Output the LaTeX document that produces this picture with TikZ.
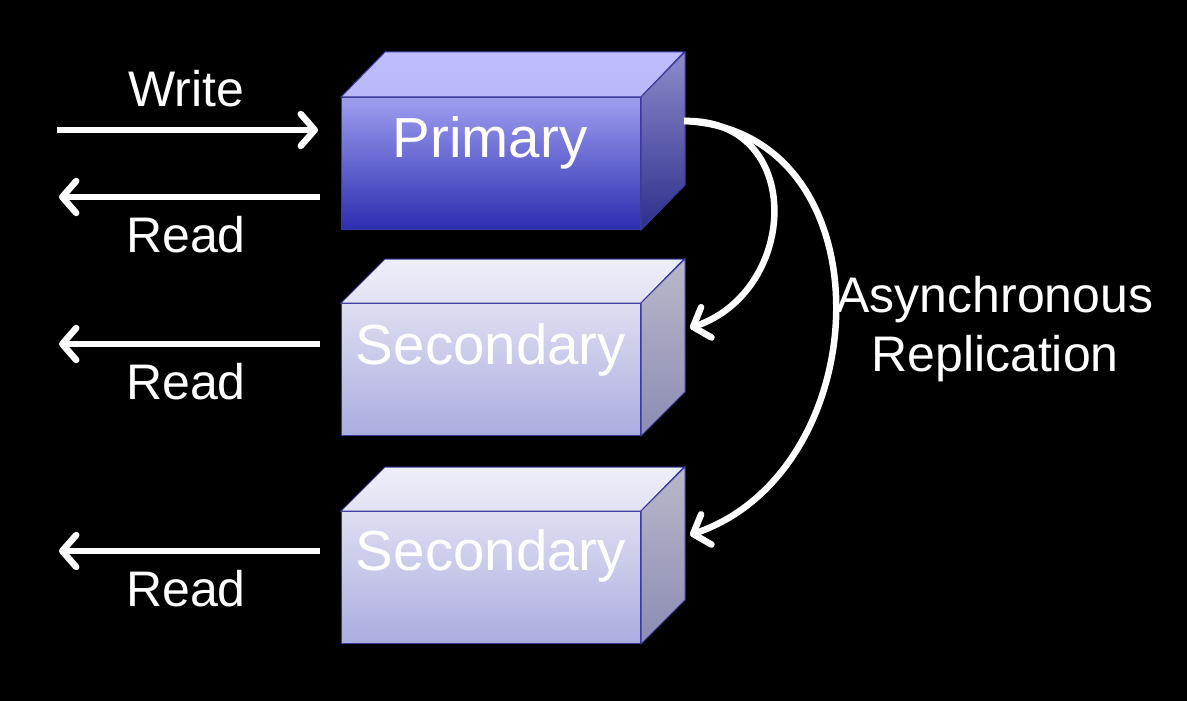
\documentclass[tikz,border=0pt]{standalone}
\usepackage{fontspec}
\setmainfont{Liberation Sans}
\usetikzlibrary{arrows.meta}
\definecolor{edge}{HTML}{3A3A9A}
\tikzset{
  flow/.style={draw=white, line width=6.5pt, -{Straight Barb[length=14pt,width=32pt,line cap=round,line join=round]}},
  lbl/.style={text=white, font=\fontsize{50}{59}\selectfont, inner sep=0pt},
  boxlbl/.style={text=white, font=\fontsize{56.5}{64}\selectfont, inner sep=0pt},
  front/.style={draw=edge, line width=1pt, minimum width=299pt, minimum height=132pt, inner sep=0pt, anchor=north west},
}
\begin{document}
\begin{tikzpicture}[x=1pt,y=-1pt]
\fill[black] (0,0) rectangle (1187,701);
\useasboundingbox (0,0) rectangle (1187,701);
% Primary
\node[front, top color={rgb,255:red,158;green,158;blue,240}, bottom color={rgb,255:red,44;green,44;blue,176}] (p) at (341,97) {};
\shade[top color={rgb,255:red,190;green,190;blue,253}, bottom color={rgb,255:red,184;green,184;blue,250}, draw=edge, line width=1pt] (p.north west) -- ++(44,-45) -- ++(299,0) -- (p.north east) -- cycle;
\shade[top color={rgb,255:red,140;green,140;blue,204}, bottom color={rgb,255:red,46;green,46;blue,140}, draw=edge, line width=1pt] (p.north east) -- ++(44,-45) -- ++(0,133) -- (p.south east) -- cycle;
\node[boxlbl] (pl) at (490,143) {Primary};
% Secondary 1
\node[front, top color={rgb,255:red,222;green,222;blue,242}, bottom color={rgb,255:red,172;green,172;blue,224}] (s1) at (341,303) {};
\shade[top color={rgb,255:red,238;green,238;blue,250}, bottom color={rgb,255:red,226;green,226;blue,244}, draw=edge, line width=1pt] (s1.north west) -- ++(44,-44) -- ++(299,0) -- (s1.north east) -- cycle;
\shade[top color={rgb,255:red,184;green,184;blue,202}, bottom color={rgb,255:red,140;green,140;blue,180}, draw=edge, line width=1pt] (s1.north east) -- ++(44,-44) -- ++(0,133) -- (s1.south east) -- cycle;
\node[boxlbl] (s1l) at (491,350) {Secondary};
% Secondary 2
\node[front, top color={rgb,255:red,222;green,222;blue,242}, bottom color={rgb,255:red,172;green,172;blue,224}] (s2) at (341,511) {};
\shade[top color={rgb,255:red,238;green,238;blue,250}, bottom color={rgb,255:red,226;green,226;blue,244}, draw=edge, line width=1pt] (s2.north west) -- ++(44,-44) -- ++(299,0) -- (s2.north east) -- cycle;
\shade[top color={rgb,255:red,184;green,184;blue,202}, bottom color={rgb,255:red,140;green,140;blue,180}, draw=edge, line width=1pt] (s2.north east) -- ++(44,-44) -- ++(0,133) -- (s2.south east) -- cycle;
\node[boxlbl] (s2l) at (491,556) {Secondary};
% Left arrows
\coordinate (wl) at (57,130);
\coordinate (wr) at (318,130);
\coordinate (r0a) at (320,197);
\coordinate (r0b) at (59,197);
\coordinate (r1a) at (320,344);
\coordinate (r1b) at (59,344);
\coordinate (r2a) at (320,551);
\coordinate (r2b) at (59,551);
\draw[flow] (wl) -- (wr);
\draw[flow] (r0a) -- (r0b);
\draw[flow] (r1a) -- (r1b);
\draw[flow] (r2a) -- (r2b);
\node[lbl] (tw) at (186,89) {Write};
\node[lbl] (tr0) at (186,235) {Read};
\node[lbl] (tr1) at (186,382) {Read};
\node[lbl] (tr2) at (186,589) {Read};
% Replication arrows
\coordinate (ps) at (684,121);
\coordinate (e1) at (690,328);
\coordinate (e2) at (690,535);
\draw[flow] (ps) .. controls (805,118) and (800,290) .. (e1);
\draw[flow] (ps) .. controls (890,130) and (880,470) .. (e2);
\node[lbl, align=center] (async) at (995,329) {Asynchronous\\Replication};
\end{tikzpicture}
\end{document}
